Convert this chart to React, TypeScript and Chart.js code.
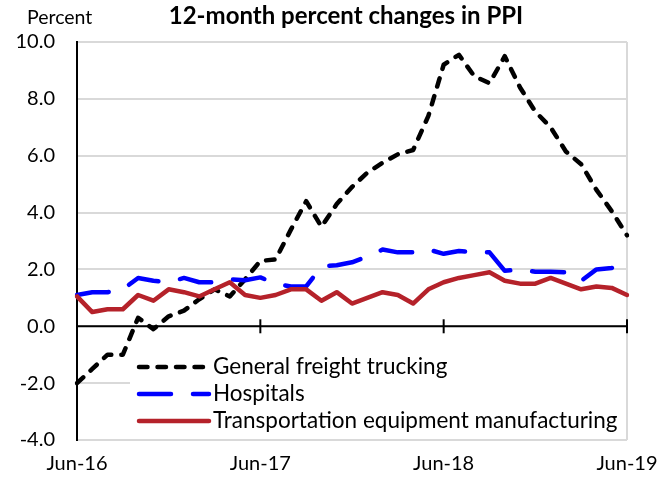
import React, { useEffect, useRef } from "react";
import { Chart, registerables } from "chart.js";
Chart.register(...registerables);

const categories = [
  "Jun-16", "Jul-16", "Aug-16", "Sep-16", "Oct-16", "Nov-16", "Dec-16",
  "Jan-17", "Feb-17", "Mar-17", "Apr-17", "May-17", "Jun-17", "Jul-17",
  "Aug-17", "Sep-17", "Oct-17", "Nov-17", "Dec-17", "Jan-18", "Feb-18",
  "Mar-18", "Apr-18", "May-18", "Jun-18", "Jul-18", "Aug-18", "Sep-18",
  "Oct-18", "Nov-18", "Dec-18", "Jan-19", "Feb-19", "Mar-19", "Apr-19",
  "May-19", "Jun-19",
];

const xTickLabels = ["Jun-16", "Jun-17", "Jun-18", "Jun-19"];

const truckingValues = [
  -2.0, -1.5, -1.0, -1.0, 0.3, -0.1, 0.35, 0.55, 0.95, 1.3, 1.05, 1.65,
  2.3, 2.35, 3.4, 4.4, 3.5, 4.3, 4.9, 5.4, 5.75, 6.05, 6.2, 7.4, 9.2, 9.55,
  8.8, 8.55, 9.5, 8.4, 7.55, 7.0, 6.15, 5.7, 4.8, 4.05, 3.2,
];

const hospitalsValues = [
  1.1, 1.2, 1.2, 1.3, 1.7, 1.6, 1.55, 1.7, 1.55, 1.55, 1.65, 1.62, 1.72,
  1.5, 1.4, 1.4, 2.1, 2.15, 2.25, 2.45, 2.7, 2.6, 2.6, 2.7, 2.55, 2.65, 2.6,
  2.6, 1.95, 2.0, 1.92, 1.92, 1.9, 1.6, 2.0, 2.05, 2.2,
];

const transportValues = [
  1.05, 0.5, 0.6, 0.6, 1.1, 0.9, 1.3, 1.2, 1.05, 1.3, 1.55, 1.1, 1.0, 1.1,
  1.3, 1.3, 0.9, 1.2, 0.8, 1.0, 1.2, 1.1, 0.8, 1.3, 1.55, 1.7, 1.8, 1.9,
  1.6, 1.5, 1.5, 1.7, 1.5, 1.3, 1.4, 1.35, 1.1,
];

const seriesLabels = [
  "General freight trucking",
  "Hospitals",
  "Transportation equipment manufacturing",
];

const titleText = "12-month percent changes in PPI";
const yAxisTitle = "Percent";

const FONT = "Lato";

const decorPlugin = {
  id: "decor",
  beforeDatasetsDraw(chart: any) {
    const { ctx, chartArea, scales } = chart;
    const x = scales.x;
    const y = scales.y;
    ctx.save();
    ctx.strokeStyle = "#d9d9d9";
    ctx.lineWidth = 2;
    ctx.beginPath();
    ctx.moveTo(chartArea.right, chartArea.top);
    ctx.lineTo(chartArea.right, chartArea.bottom);
    ctx.stroke();
    const y0 = y.getPixelForValue(0);
    ctx.strokeStyle = "#000";
    ctx.lineWidth = 2;
    ctx.beginPath();
    ctx.moveTo(chartArea.left, y0);
    ctx.lineTo(chartArea.right, y0);
    ctx.stroke();
    xTickLabels.forEach((lab) => {
      const idx = categories.indexOf(lab);
      if (idx <= 0) return;
      const px = x.getPixelForValue(idx);
      ctx.beginPath();
      ctx.moveTo(px, y0 - 7);
      ctx.lineTo(px, y0 + 7);
      ctx.stroke();
    });
    ctx.restore();
  },
  afterDatasetsDraw(chart: any) {
    const ctx = chart.ctx;
    const datasets = chart.data.datasets;
    ctx.save();
    ctx.fillStyle = "#fff";
    ctx.fillRect(130, 350, 496, 89);
    const rows = [367, 394, 421];
    datasets.forEach((ds: any, i: number) => {
      const ry = rows[i];
      ctx.strokeStyle = ds.borderColor;
      ctx.lineWidth = ds.borderWidth;
      ctx.lineCap = "round";
      ctx.setLineDash(ds.borderDash || []);
      ctx.beginPath();
      ctx.moveTo(139, ry);
      ctx.lineTo(209, ry);
      ctx.stroke();
      ctx.setLineDash([]);
      ctx.fillStyle = "#000";
      ctx.font = `22.5px ${FONT}`;
      ctx.textBaseline = "middle";
      ctx.textAlign = "left";
      ctx.fillText(ds.label, 213, ry);
    });
    ctx.fillStyle = "#000";
    ctx.font = `bold 24px ${FONT}`;
    ctx.textAlign = "center";
    ctx.textBaseline = "middle";
    ctx.fillText(titleText, 346, 16);
    ctx.font = `19.5px ${FONT}`;
    ctx.textAlign = "left";
    ctx.fillText(yAxisTitle, 27, 18);
    ctx.restore();
  },
};

export default function App() {
  const canvasRef = useRef<HTMLCanvasElement | null>(null);

  useEffect(() => {
    document.body.style.margin = "0";
    const canvas = canvasRef.current;
    if (!canvas) return;
    const chart = new Chart(canvas, {
      type: "line",
      data: {
        labels: categories,
        datasets: [
          {
            label: seriesLabels[0],
            data: truckingValues,
            borderColor: "#000000",
            borderWidth: 4.5,
            borderDash: [8.5, 10],
            borderCapStyle: "round",
            borderJoinStyle: "round",
            pointRadius: 0,
            tension: 0,
            order: 3,
          },
          {
            label: seriesLabels[1],
            data: hospitalsValues,
            borderColor: "#0000FF",
            borderWidth: 4.5,
            borderDash: [32, 22],
            borderCapStyle: "round",
            borderJoinStyle: "round",
            pointRadius: 0,
            tension: 0,
            order: 2,
          },
          {
            label: seriesLabels[2],
            data: transportValues,
            borderColor: "#B5222A",
            borderWidth: 4.5,
            borderCapStyle: "round",
            borderJoinStyle: "round",
            pointRadius: 0,
            tension: 0,
            order: 1,
          },
        ],
      },
      options: {
        animation: false,
        responsive: false,
        devicePixelRatio: 1,
        layout: { padding: { top: 42, right: 44, left: 0, bottom: 0 } },
        plugins: {
          legend: { display: false },
          title: { display: false },
          tooltip: { enabled: false },
        },
        scales: {
          x: {
            type: "category",
            offset: false,
            grid: { display: false, drawTicks: false },
            border: { display: false },
            afterFit: (s: any) => {
              s.height = 40;
            },
            ticks: {
              autoSkip: false,
              maxRotation: 0,
              minRotation: 0,
              padding: 12,
              color: "#000",
              font: { family: FONT, size: 20 },
              callback: (_v: any, idx: number) =>
                xTickLabels.includes(categories[idx]) ? categories[idx] : "",
            },
          },
          y: {
            min: -4,
            max: 10,
            afterFit: (s: any) => {
              s.width = 77;
            },
            grid: { color: "#d9d9d9", lineWidth: 2, drawTicks: false },
            border: { display: true, color: "#000", width: 2 },
            ticks: {
              stepSize: 2,
              padding: 22,
              color: "#000",
              font: { family: FONT, size: 20 },
              callback: (v: any) => Number(v).toFixed(1),
            },
          },
        },
      },
      plugins: [decorPlugin],
    });
    return () => chart.destroy();
  }, []);

  return (
    <div style={{ width: 671, height: 480 }}>
      <canvas ref={canvasRef} width={671} height={480} style={{ display: "block" }} />
    </div>
  );
}
